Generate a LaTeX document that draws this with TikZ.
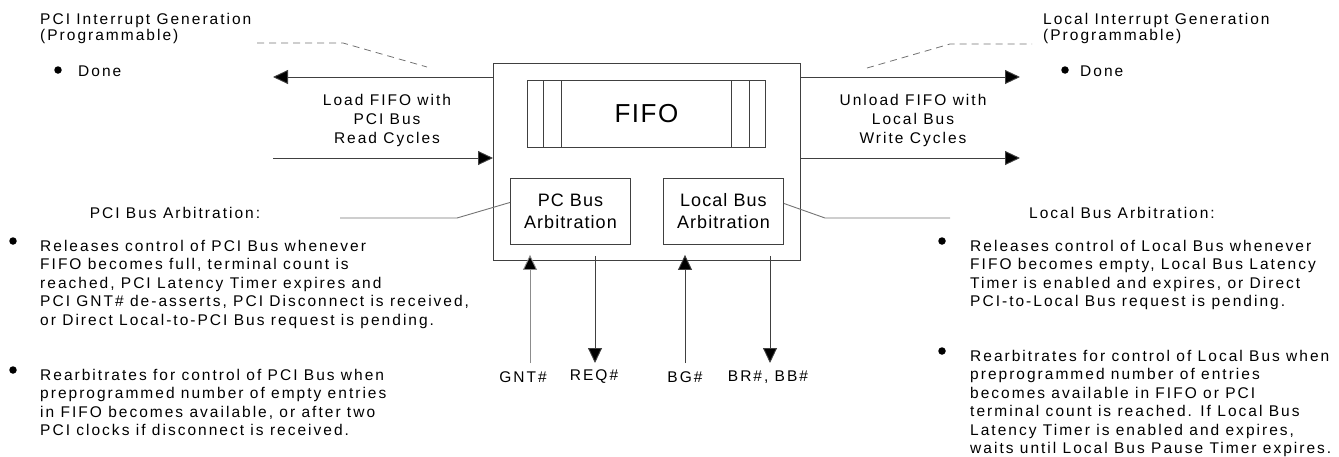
\documentclass[tikz,border=0pt]{standalone}
\usepackage{fontspec}
\setmainfont{Liberation Sans}[LetterSpace=13]
\newfontfamily\boxfont{Liberation Sans}[LetterSpace=6]
\usetikzlibrary{arrows.meta,calc}
\begin{document}
\begin{tikzpicture}[x=1pt,y=-1pt,
  txt/.style={inner sep=0pt,align=left,font=\fontsize{15.5}{18.4}\selectfont},
  ctxt/.style={inner sep=0pt,align=center,font=\fontsize{15.5}{19}\selectfont},
  hdr/.style={inner sep=0pt,align=left,font=\fontsize{15.5}{16.5}\selectfont},
  bul/.style={circle,fill=black,inner sep=0pt,minimum size=7.5pt},
  boxst/.style={draw=black!75,line width=0.9pt,inner sep=0pt},
  arr/.style={draw=black!75,line width=0.9pt,-{Triangle[length=15pt,width=14pt,fill=black]}},
  conn/.style={draw=black!55,line width=0.9pt},
  dsh/.style={draw=black!55,line width=0.8pt,dash pattern=on 7pt off 5pt}
]
\useasboundingbox (0,0) rectangle (1339,456);

% main block
\node[boxst,minimum width=307pt,minimum height=197pt,anchor=north west] (main) at (493,63) {};
\node[boxst,minimum width=238pt,minimum height=67pt,anchor=north west,font=\boxfont\fontsize{26}{30}\selectfont] (fifo) at (527,80) {FIFO};
\draw[black!75,line width=0.9pt] (543,80) -- (543,147) (561,80) -- (561,147) (731,80) -- (731,147) (749,80) -- (749,147);
\node[boxst,minimum width=120pt,minimum height=66pt,anchor=north west,align=center,font=\boxfont\fontsize{18}{22}\selectfont] (pcarb) at (510,178) {PC Bus\\Arbitration};
\node[boxst,minimum width=120pt,minimum height=66pt,anchor=north west,align=center,font=\boxfont\fontsize{18}{22}\selectfont] (lcarb) at (663,178) {Local Bus\\Arbitration};

% top-left texts
\node[hdr,anchor=north west] (pciint) at (40,13) {PCI Interrupt Generation\\(Programmable)};
\node[bul] (pcidoneb) at (58,70) {};
\node[txt,anchor=west] (pcidone) at (78,71) {Done};
\node[hdr,anchor=north west] (locint) at (1043,13) {Local Interrupt Generation\\(Programmable)};
\node[bul] (locdoneb) at (1065,70) {};
\node[txt,anchor=west] (locdone) at (1080,71) {Done};

% dashed leaders
\draw[dsh] (257,43) -- (343,43) -- (427,67);
\draw[dsh] (867,68) -- (950,44) -- (1032,44);

% horizontal arrows
\coordinate (lt) at (273,77);
\coordinate (lb) at (273,158);
\coordinate (rt) at (1020,77);
\coordinate (rb) at (1020,158);
\draw[arr] (lt -| main.west) -- (lt);
\draw[arr] (lb) -- (lb -| main.west);
\draw[arr] (rt -| main.east) -- (rt);
\draw[arr] (rb -| main.east) -- (rb);
\node[ctxt] (loadtxt) at (387,120) {Load FIFO with\\PCI Bus\\Read Cycles};
\node[ctxt] (unloadtxt) at (913,120) {Unload FIFO with\\Local Bus\\Write Cycles};

% arbitration headers and leaders
\node[txt] (pcihdr) at (175,213) {PCI Bus Arbitration:};
\node[txt] (lochdr) at (1122,213) {Local Bus Arbitration:};
\coordinate (pcl) at (340,218);
\coordinate (lcl) at (950,218);
\draw[conn] (pcl) -- (457,218) -- ($(pcarb.west)+(0,-9)$);
\draw[conn] ($(lcarb.east)+(0,-8)$) -- (825,218) -- (lcl);

% signals
\node[txt] (gnt) at (523,377) {GNT\#};
\node[txt] (req) at (594,377) {REQ\#};
\node[txt] (bg) at (685,377) {BG\#};
\node[txt] (br) at (768,377) {BR\#, BB\#};
\coordinate (gnts) at (530,363);
\coordinate (reqs) at (595,363);
\coordinate (bgs) at (685,363);
\coordinate (brs) at (770,363);
\draw[arr,draw=black!45] (gnts) -- ([yshift=6pt]gnts |- main.south);
\draw[arr] ([yshift=5pt]reqs |- main.south) -- (reqs);
\draw[arr] (bgs) -- ([yshift=6pt]bgs |- main.south);
\draw[arr] ([yshift=5pt]brs |- main.south) -- (brs);

% bullet lists
\node[bul] (lb1) at (13,241) {};
\node[txt,anchor=north west] (lp1) at (40,240) {Releases control of PCI Bus whenever\\FIFO becomes full, terminal count is\\reached, PCI Latency Timer expires and\\PCI GNT\# de-asserts, PCI Disconnect is received,\\or Direct Local-to-PCI Bus request is pending.};
\node[bul] (lb2) at (13,370) {};
\node[txt,anchor=north west] (lp2) at (40,369) {Rearbitrates for control of PCI Bus when\\preprogrammed number of empty entries\\in FIFO becomes available, or after two\\PCI clocks if disconnect is received.};
\node[bul] (rb1) at (942,241) {};
\node[txt,anchor=north west] (rp1) at (970,240) {Releases control of Local Bus whenever\\FIFO becomes empty, Local Bus Latency\\Timer is enabled and expires, or Direct\\PCI-to-Local Bus request is pending.};
\node[bul] (rb2) at (942,351) {};
\node[txt,anchor=north west] (rp2) at (970,350) {Rearbitrates for control of Local Bus when\\preprogrammed number of entries\\becomes available in FIFO or PCI\\terminal count is reached. If Local Bus\\Latency Timer is enabled and expires,\\waits until Local Bus Pause Timer expires.};
\end{tikzpicture}
\end{document}
